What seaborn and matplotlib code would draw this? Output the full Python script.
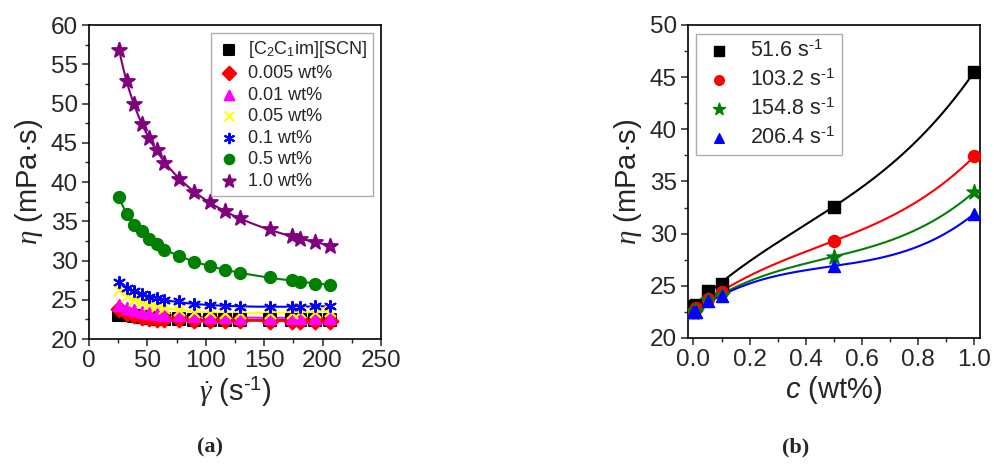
import numpy as np
import pandas as pd
import matplotlib
matplotlib.use("Agg")
import matplotlib.pyplot as plt
import seaborn as sns

# ---- data: panel (a), viscosity vs shear rate ----
shear = [25.8, 32.25, 38.7, 45.15, 51.6, 58.05, 64.5, 77.4, 90.3, 103.2,
         116.1, 129.0, 154.8, 174.15, 180.6, 193.5, 206.4]
eta_il = [23.1, 23.0, 22.9, 22.8, 22.7, 22.6, 22.5, 22.5, 22.4, 22.4,
          22.4, 22.4, 22.4, 22.4, 22.4, 22.4, 22.4]
eta_0005 = [23.8, 23.3, 23.0, 22.8, 22.7, 22.6, 22.5, 22.5, 22.4, 22.4,
            22.4, 22.4, 22.3, 22.3, 22.3, 22.3, 22.3]
eta_001 = [24.3, 24.0, 23.7, 23.5, 23.3, 23.2, 23.1, 23.0, 22.9, 22.8,
           22.8, 22.7, 22.7, 22.7, 22.7, 22.7, 22.7]
eta_005 = [26.3, 25.5, 25.0, 24.7, 24.4, 24.2, 24.0, 23.7, 23.5, 23.4,
           23.3, 23.3, 23.3, 23.3, 23.4, 23.5, 23.6]
eta_01 = [27.3, 26.5, 26.1, 25.7, 25.4, 25.2, 25.0, 24.8, 24.5, 24.3,
          24.2, 24.1, 24.1, 24.1, 24.1, 24.2, 24.2]
eta_05 = [38.1, 35.9, 34.5, 33.8, 32.7, 32.1, 31.4, 30.6, 29.85, 29.3,
          28.8, 28.4, 27.85, 27.5, 27.3, 27.05, 26.9]
eta_10 = [56.8, 52.9, 49.9, 47.4, 45.6, 44.1, 42.4, 40.4, 38.7, 37.4,
          36.3, 35.4, 34.0, 33.1, 32.8, 32.3, 31.9]

series_a = [
    (r"[C$_2$C$_1$im][SCN]", eta_il, "black", "s"),
    ("0.005 wt%", eta_0005, "red", "D"),
    ("0.01 wt%", eta_001, "magenta", "^"),
    ("0.05 wt%", eta_005, "yellow", "x"),
    ("0.1 wt%", eta_01, "blue", (6, 2, 0)),
    ("0.5 wt%", eta_05, "green", "o"),
    ("1.0 wt%", eta_10, "purple", "*"),
]

# ---- data: panel (b), viscosity vs concentration ----
conc = [0.0, 0.005, 0.01, 0.05, 0.1, 0.5, 1.0]
eta_516 = [23.0, 23.1, 23.2, 24.5, 25.2, 32.6, 45.5]
eta_1032 = [22.5, 22.7, 22.9, 23.7, 24.4, 29.3, 37.4]
eta_1548 = [22.5, 22.6, 22.6, 23.6, 24.1, 27.8, 34.0]
eta_2064 = [22.5, 22.5, 22.5, 23.5, 24.0, 26.9, 31.9]

series_b = [
    (r"51.6 s$^{\text{-}1}$", eta_516, "black", "s"),
    (r"103.2 s$^{\text{-}1}$", eta_1032, "red", "o"),
    (r"154.8 s$^{\text{-}1}$", eta_1548, "green", "*"),
    (r"206.4 s$^{\text{-}1}$", eta_2064, "blue", "^"),
]

sns.set_style("ticks")
plt.rcParams["font.family"] = ["Liberation Sans", "DejaVu Sans"]
plt.rcParams["mathtext.fontset"] = "custom"
plt.rcParams["mathtext.rm"] = "Liberation Sans"
plt.rcParams["mathtext.it"] = "Liberation Serif:italic"
plt.rcParams["mathtext.sf"] = "Liberation Sans:italic"

fig = plt.figure(figsize=(9.94, 4.70), dpi=100)
ax_a = fig.add_axes([0.0895, 0.2787, 0.2938, 0.668])
ax_b = fig.add_axes([0.692, 0.2809, 0.2938, 0.666])


def style_axis(ax):
    for sp in ax.spines.values():
        sp.set_visible(True)
        sp.set_linewidth(1.2)
        sp.set_color("black")
    ax.tick_params(which="major", direction="out", length=5, width=1.1,
                   labelsize=17.5, top=False, right=False, pad=3)
    ax.tick_params(which="minor", direction="out", length=3, width=1.0,
                   top=False, right=False)


# panel (a)
xs = np.linspace(min(shear), max(shear), 200)
for label, vals, color, marker in series_a:
    coef = np.polyfit(np.log(shear), np.log(vals), 3)
    fit = np.exp(np.polyval(coef, np.log(xs)))
    sns.lineplot(x=xs, y=fit, color=color, linewidth=1.5, ax=ax_a)
for label, vals, color, marker in series_a:
    size = 120 if marker == "*" else 65
    sns.scatterplot(x=shear, y=vals, marker=marker, color=color,
                    edgecolor=color, linewidth=1.5, s=size, ax=ax_a,
                    label=label, zorder=3)

ax_a.set_xlim(0, 250)
ax_a.set_ylim(20, 60)
ax_a.set_xticks(np.arange(0, 251, 50))
ax_a.set_xticks(np.arange(0, 251, 25), minor=True)
ax_a.set_yticks(np.arange(20, 61, 5))
ax_a.set_yticks(np.arange(20, 61, 2.5), minor=True)
ax_a.set_xlabel(r"$\dot{\gamma}$ (s$^{\text{-}1}$)", fontsize=21, labelpad=2)
ax_a.set_ylabel(r"$\eta$ (mPa·s)", fontsize=21, labelpad=4)
style_axis(ax_a)
leg = ax_a.legend(loc="upper right", fontsize=13, frameon=True, fancybox=False,
                  edgecolor="#9a9a9a", handletextpad=0.4, labelspacing=0.25,
                  borderaxespad=0.45, borderpad=0.35, markerscale=0.85,
                  handlelength=1.3)
leg.get_frame().set_linewidth(1.0)

# panel (b)
cs = np.linspace(0, 1, 200)
for label, vals, color, marker in series_b:
    coef = np.polyfit(conc, vals, 3)
    sns.lineplot(x=cs, y=np.polyval(coef, cs), color=color, linewidth=1.5, ax=ax_b)
for label, vals, color, marker in series_b:
    size = 130 if marker == "*" else 75
    sns.scatterplot(x=conc, y=vals, marker=marker, color=color,
                    edgecolor=color, linewidth=1.0, s=size, ax=ax_b,
                    label=label, zorder=3)

ax_b.set_xlim(-0.02, 1.02)
ax_b.set_ylim(20, 50)
ax_b.set_xticks(np.arange(0, 1.01, 0.2))
ax_b.set_xticks(np.arange(0, 1.01, 0.1), minor=True)
ax_b.set_xticklabels([f"{v:.1f}" for v in np.arange(0, 1.01, 0.2)])
ax_b.set_yticks(np.arange(20, 51, 5))
ax_b.set_yticks(np.arange(20, 51, 2.5), minor=True)
ax_b.set_xlabel(r"$\mathsf{c}$ (wt%)", fontsize=21, labelpad=2)
ax_b.set_ylabel(r"$\eta$ (mPa·s)", fontsize=21, labelpad=4)
style_axis(ax_b)
leg = ax_b.legend(loc="upper left", fontsize=15.5, frameon=True, fancybox=False,
                  edgecolor="#9a9a9a", handletextpad=0.7, labelspacing=0.35,
                  borderaxespad=0.4, borderpad=0.3, markerscale=0.8,
                  handlelength=1.5)
leg.get_frame().set_linewidth(1.0)

fig.text(0.211, 0.047, "(a)", fontsize=16, fontweight="bold",
         family="Liberation Serif", ha="center", va="center")
fig.text(0.80, 0.047, "(b)", fontsize=16, fontweight="bold",
         family="Liberation Serif", ha="center", va="center")

fig.savefig("out.png", dpi=100)
